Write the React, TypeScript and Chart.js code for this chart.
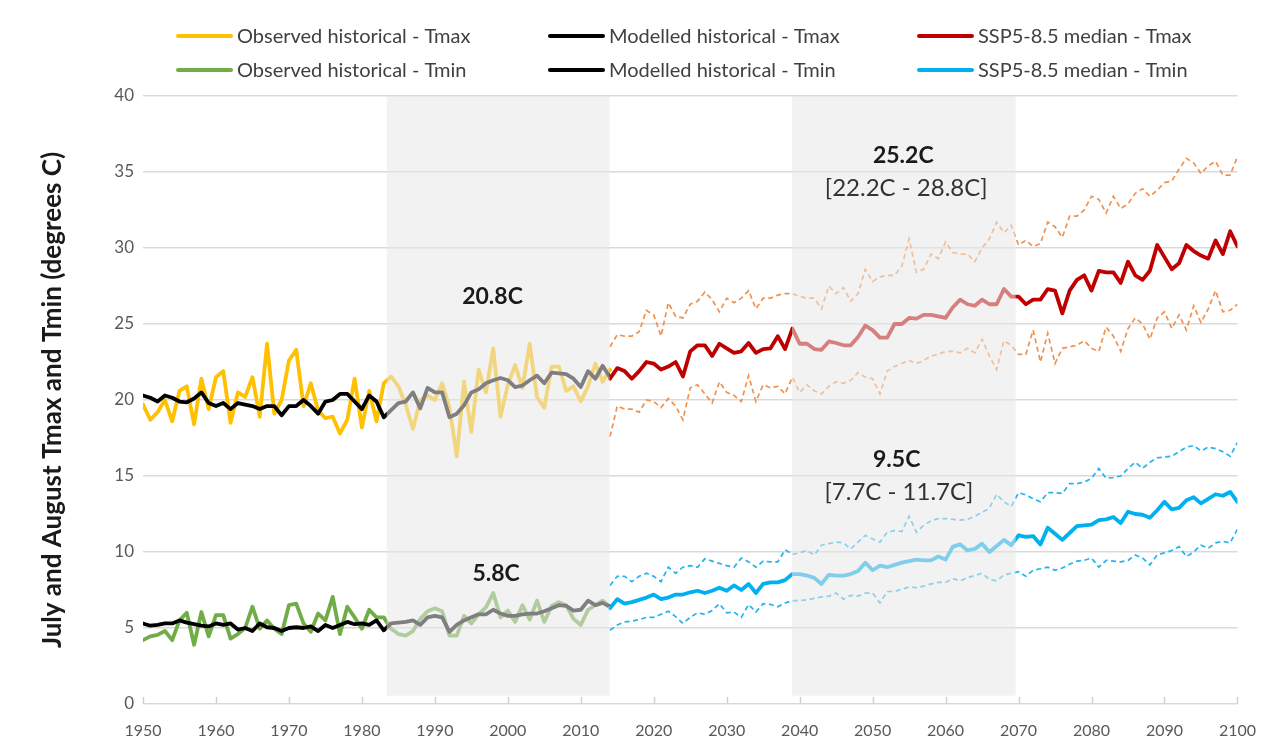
import React, { useEffect, useRef } from "react";
import { Chart, registerables } from "chart.js";

Chart.register(...registerables);

// ---------- categories ----------
const HIST_START = 1950;
const HIST_END = 2014;
const PROJ_START = 2014;
const PROJ_END = 2100;
const HIST_YEARS: number[] = [];
for (let y = HIST_START; y <= HIST_END; y++) HIST_YEARS.push(y);
const PROJ_YEARS: number[] = [];
for (let y = PROJ_START; y <= PROJ_END; y++) PROJ_YEARS.push(y);

const X_TICKS = [1950, 1960, 1970, 1980, 1990, 2000, 2010, 2020, 2030, 2040, 2050, 2060, 2070, 2080, 2090, 2100];
const Y_TICKS = [0, 5, 10, 15, 20, 25, 30, 35, 40];

// ---------- series (1950-2014) ----------
const OBS_TMAX = [
  19.7, 18.7, 19.2, 20.0, 18.6, 20.6, 20.9, 18.4, 21.4, 19.4,
  21.5, 21.9, 18.5, 20.5, 20.2, 21.5, 18.9, 23.7, 19.1, 20.0,
  22.6, 23.3, 19.6, 21.1, 19.3, 18.8, 18.9, 17.8, 18.7, 21.4,
  18.2, 20.6, 18.6, 21.1, 21.55, 20.9, 19.7, 18.1, 20.0, 20.3,
  20.0, 21.1, 19.5, 16.3, 21.2, 17.9, 22.0, 20.5, 23.4, 18.9,
  21.0, 22.3, 20.8, 23.7, 20.2, 19.5, 22.2, 22.2, 20.6, 20.9,
  19.9, 20.9, 22.4, 21.2, 22.0,
];
const MOD_TMAX = [
  20.3, 20.15, 19.9, 20.3, 20.15, 19.9, 19.85, 20.1, 20.5, 19.8,
  19.6, 19.8, 19.4, 19.8, 19.7, 19.6, 19.4, 19.6, 19.6, 19.0,
  19.6, 19.6, 20.0, 19.6, 19.1, 19.9, 20.0, 20.4, 20.4, 19.9,
  19.4, 20.3, 19.9, 18.86, 19.34, 19.8, 19.9, 20.5, 19.45, 20.8,
  20.5, 20.5, 18.86, 19.1, 19.65, 20.5, 20.7, 21.1, 21.3, 21.45,
  21.3, 20.85, 20.95, 21.3, 21.6, 21.1, 21.8, 21.75, 21.7, 21.4,
  20.85, 21.9, 21.4, 22.25, 21.5,
];
const OBS_TMIN = [
  4.2, 4.45, 4.55, 4.8, 4.2, 5.5, 6.0, 3.9, 6.05, 4.45,
  5.85, 5.85, 4.3, 4.6, 5.0, 6.4, 4.95, 5.5, 4.95, 4.6,
  6.5, 6.6, 5.3, 4.75, 5.95, 5.5, 7.05, 4.6, 6.4, 5.7,
  4.95, 6.2, 5.7, 5.7, 4.95, 4.6, 4.5, 4.8, 5.6, 6.1,
  6.3, 6.1, 4.5, 4.5, 5.8, 5.3, 5.9, 6.35, 7.3, 5.7,
  6.15, 5.4, 6.5, 5.55, 6.8, 5.4, 6.45, 6.7, 6.5, 5.6,
  5.2, 6.2, 6.5, 6.8, 6.4,
];
const MOD_TMIN = [
  5.3, 5.15, 5.2, 5.3, 5.3, 5.5, 5.35, 5.25, 5.15, 5.1,
  5.3, 5.2, 5.3, 4.9, 5.0, 4.8, 5.3, 5.05, 5.0, 4.8,
  5.0, 5.05, 5.0, 5.1, 4.8, 5.2, 5.0, 5.2, 5.4, 5.25,
  5.3, 5.2, 5.5, 4.85, 5.3, 5.35, 5.4, 5.5, 5.2, 5.7,
  5.8, 5.7, 4.75, 5.2, 5.5, 5.7, 5.9, 5.9, 6.2, 5.95,
  5.8, 5.8, 5.9, 5.95, 5.95, 6.1, 6.3, 6.5, 6.45, 6.15,
  6.2, 6.8, 6.5, 6.65, 6.4,
];

// ---------- series (2014-2100) ----------
const SSP_TMAX_MED = [
  21.4, 22.1, 21.9, 21.4, 21.9, 22.5, 22.4, 22.0, 22.2, 22.5,
  21.55, 23.2, 23.6, 23.6, 22.9, 23.7, 23.4, 23.1, 23.2, 23.75,
  23.1, 23.35, 23.4, 24.2, 23.35, 24.7, 23.7, 23.7, 23.35, 23.3,
  23.85, 23.75, 23.6, 23.6, 24.15, 24.9, 24.6, 24.1, 24.1, 25.0,
  25.0, 25.4, 25.35, 25.6, 25.6, 25.5, 25.4, 26.1, 26.6, 26.3,
  26.2, 26.6, 26.3, 26.3, 27.3, 26.8, 26.8, 26.3, 26.6, 26.6,
  27.3, 27.2, 25.7, 27.2, 27.9, 28.2, 27.2, 28.5, 28.4, 28.4,
  27.7, 29.1, 28.2, 27.9, 28.5, 30.2, 29.4, 28.6, 29.0, 30.2,
  29.8, 29.5, 29.3, 30.5, 29.6, 31.1, 30.1,
];
const SSP_TMAX_HIGH = [
  23.5, 24.3, 24.2, 24.2, 24.5, 25.9, 25.6, 24.2, 26.4, 25.5,
  25.4, 26.3, 26.5, 27.1, 26.6, 25.8, 26.7, 26.4, 26.7, 27.2,
  26.0, 26.7, 26.7, 26.9, 27.0, 27.0, 26.8, 26.7, 26.7, 26.0,
  27.5, 27.0, 27.4, 26.5, 27.0, 28.6, 27.8, 28.1, 28.2, 28.2,
  28.8, 30.6, 28.4, 28.6, 29.6, 29.3, 30.4, 29.7, 29.6, 29.6,
  29.1, 30.0, 30.6, 31.7, 31.0, 31.5, 30.2, 30.5, 30.1, 30.3,
  31.7, 31.4, 30.7, 32.1, 32.1, 32.5, 33.4, 33.2, 32.3, 33.4,
  32.6, 32.9, 33.6, 33.9, 33.4, 33.8, 34.3, 34.4, 35.2, 35.9,
  35.6, 34.9, 35.4, 35.7, 34.8, 34.8, 36.0,
];
const SSP_TMAX_LOW = [
  17.6, 19.6, 19.4, 19.4, 19.2, 20.0, 19.9, 19.5, 20.1, 19.6,
  18.7, 20.8, 21.0, 20.4, 19.8, 21.2, 20.5, 20.3, 19.9, 21.6,
  19.9, 21.0, 20.8, 20.9, 20.4, 21.5, 20.5, 21.0, 20.6, 20.4,
  20.9, 21.2, 21.1, 21.3, 21.8, 21.5, 21.4, 20.4, 21.9, 22.2,
  22.4, 22.6, 22.4, 22.6, 22.9, 23.0, 23.2, 23.2, 23.1, 23.4,
  23.1, 24.0, 22.9, 22.0, 23.9, 23.6, 23.0, 23.0, 24.6, 22.5,
  24.4, 22.4, 23.4, 23.5, 23.6, 23.9, 23.4, 23.2, 24.8, 24.2,
  23.2, 24.7, 25.4, 25.0, 24.0, 25.4, 25.8, 24.7, 25.6, 24.6,
  26.2, 25.1, 26.0, 27.2, 25.8, 25.9, 26.3,
];
const SSP_TMIN_MED = [
  6.3, 6.9, 6.6, 6.7, 6.85, 7.0, 7.2, 6.9, 7.0, 7.2,
  7.2, 7.35, 7.45, 7.3, 7.45, 7.65, 7.45, 7.8, 7.5, 7.9,
  7.3, 7.9, 8.0, 8.0, 8.15, 8.55, 8.55, 8.45, 8.3, 7.9,
  8.5, 8.45, 8.45, 8.55, 8.75, 9.3, 8.8, 9.1, 9.0, 9.15,
  9.3, 9.4, 9.5, 9.45, 9.45, 9.7, 9.5, 10.35, 10.5, 10.1,
  10.2, 10.55, 10.0, 10.4, 10.8, 10.45, 11.1, 11.0, 11.05, 10.5,
  11.6, 11.2, 10.8, 11.25, 11.7, 11.75, 11.8, 12.1, 12.15, 12.3,
  11.9, 12.65, 12.5, 12.45, 12.25, 12.75, 13.3, 12.8, 12.9, 13.4,
  13.6, 13.2, 13.5, 13.8, 13.7, 13.95, 13.3,
];
const SSP_TMIN_HIGH = [
  7.8, 8.4, 8.4, 8.05, 8.4, 8.6, 8.4, 8.05, 9.0, 8.6,
  9.0, 9.1, 9.0, 9.55, 9.4, 9.25, 9.1, 9.0, 9.6, 9.35,
  9.0, 9.4, 9.35, 9.35, 10.15, 9.85, 9.95, 10.1, 9.8, 10.45,
  10.55, 10.65, 10.6, 10.2, 10.65, 11.1, 10.85, 10.65, 11.3, 11.4,
  11.35, 12.35, 11.3, 11.75, 12.05, 12.2, 12.2, 12.15, 12.1, 12.15,
  12.35, 12.6, 12.9, 13.8, 13.3, 13.0, 13.9, 13.75, 13.5, 13.3,
  13.9, 13.9, 13.85, 14.5, 14.5, 14.6, 14.85, 15.5, 14.85, 14.9,
  15.0, 15.5, 15.9, 15.5, 15.9, 16.2, 16.25, 16.3, 16.6, 16.9,
  17.0, 16.65, 16.9, 16.8, 16.6, 16.3, 17.2,
];
const SSP_TMIN_LOW = [
  4.85, 5.2, 5.4, 5.45, 5.55, 5.7, 5.7, 5.9, 6.1, 5.75,
  5.3, 5.7, 6.0, 5.9, 6.15, 6.6, 6.0, 6.05, 5.7, 6.55,
  6.05, 6.6, 6.55, 6.4, 6.65, 6.8, 6.8, 6.85, 6.95, 7.05,
  7.1, 7.3, 6.9, 7.15, 7.1, 7.3, 7.3, 6.65, 7.4, 7.4,
  7.55, 7.7, 7.65, 7.75, 7.9, 8.0, 8.0, 8.25, 8.1, 8.3,
  8.45, 8.6, 8.2, 8.1, 8.5, 8.6, 8.7, 8.4, 8.8, 8.9,
  9.0, 8.8, 8.95, 9.2, 9.4, 9.45, 9.6, 9.0, 9.45, 9.4,
  9.35, 9.45, 9.8, 9.6, 9.15, 9.8, 9.95, 10.1, 10.35, 9.7,
  10.0, 10.45, 10.25, 10.6, 10.7, 10.6, 11.5,
];

// ---------- shaded averaging periods & labels ----------
const BANDS: [number, number][] = [
  [1983.4, 2013.95],
  [2038.95, 2069.6],
];
const ANNOTATIONS = [
  { x: 1997.9, y: 26.8, text: "20.8C", bold: true },
  { x: 1998.4, y: 8.55, text: "5.8C", bold: true },
  { x: 2054.2, y: 36.1, text: "25.2C", bold: true },
  { x: 2054.6, y: 33.95, text: "[22.2C - 28.8C]", bold: false },
  { x: 2053.3, y: 16.05, text: "9.5C", bold: true },
  { x: 2053.6, y: 13.95, text: "[7.7C - 11.7C]", bold: false },
];
const LEGEND_LABELS = [
  "Observed historical - Tmax",
  "Modelled historical - Tmax",
  "SSP5-8.5 median - Tmax",
  "Observed historical - Tmin",
  "Modelled historical - Tmin",
  "SSP5-8.5 median - Tmin",
];

const C_YELLOW = "#FFC000";
const C_GREEN = "#70AD47";
const C_BLACK = "#000000";
const C_RED = "#C00000";
const C_BLUE = "#00B0F0";
const C_ORANGE_DASH = "#F0924F";
const C_BLUE_DASH = "#22B4EE";
const LEGEND_COLORS = [C_YELLOW, C_BLACK, C_RED, C_GREEN, C_BLACK, C_BLUE];
const FONT = "Lato, 'Open Sans', sans-serif";

const toPts = (xs: number[], ys: number[]) => xs.map((x, i) => ({ x, y: ys[i] }));

const bandPlugin = {
  id: "bands",
  afterDatasetsDraw(chart: any) {
    const { ctx, scales } = chart;
    const xs = scales.x;
    const ys = scales.y;
    ctx.save();
    ctx.fillStyle = "rgba(231,231,231,0.55)";
    BANDS.forEach(([a, b]) => {
      const x0 = xs.getPixelForValue(a);
      const x1 = xs.getPixelForValue(b);
      const y0 = ys.getPixelForValue(40);
      const y1 = ys.getPixelForValue(0.55);
      ctx.fillRect(x0, y0, x1 - x0, y1 - y0);
    });
    // inside tick marks on the x axis
    ctx.strokeStyle = "#D0D0D0";
    ctx.lineWidth = 1.5;
    const yb = ys.getPixelForValue(0);
    X_TICKS.forEach((t) => {
      const px = Math.round(xs.getPixelForValue(t)) + 0.5;
      ctx.beginPath();
      ctx.moveTo(px, yb);
      ctx.lineTo(px, yb - 7);
      ctx.stroke();
    });
    ctx.restore();
  },
};

const labelPlugin = {
  id: "labels",
  afterDraw(chart: any) {
    const { ctx, scales } = chart;
    ctx.save();
    ctx.textAlign = "center";
    ctx.textBaseline = "middle";
    ANNOTATIONS.forEach((a) => {
      ctx.font = a.bold ? `bold 23px ${FONT}` : `24px ${FONT}`;
      ctx.fillStyle = a.bold ? "#1a1a1a" : "#333333";
      ctx.fillText(a.text, scales.x.getPixelForValue(a.x), scales.y.getPixelForValue(a.y));
    });
    // legend (3 columns x 2 rows)
    const colX = [170, 542, 911];
    const rowY = [28, 62];
    ctx.textAlign = "left";
    ctx.font = `20px ${FONT}`;
    LEGEND_LABELS.forEach((lab, i) => {
      const cx = colX[i % 3];
      const cy = rowY[Math.floor(i / 3)];
      ctx.strokeStyle = LEGEND_COLORS[i];
      ctx.lineWidth = 4;
      ctx.lineCap = "round";
      ctx.beginPath();
      ctx.moveTo(cx, cy);
      ctx.lineTo(cx + 53, cy);
      ctx.stroke();
      ctx.fillStyle = "#404040";
      ctx.fillText(lab, cx + 59, cy + 1);
    });
    ctx.restore();
  },
};

export default function App() {
  const ref = useRef<HTMLCanvasElement | null>(null);
  useEffect(() => {
    if (!ref.current) return;
    const solid = (label: string, xs: number[], ys: number[], color: string, order: number) => ({
      label,
      data: toPts(xs, ys),
      borderColor: color,
      backgroundColor: color,
      borderWidth: 3.8,
      pointRadius: 0,
      tension: 0,
      fill: false,
      borderJoinStyle: "round",
      borderCapStyle: "round",
      order,
    });
    const dashed = (label: string, xs: number[], ys: number[], color: string) => ({
      label,
      data: toPts(xs, ys),
      borderColor: color,
      backgroundColor: color,
      borderWidth: 1.7,
      borderDash: [5, 3.5],
      pointRadius: 0,
      tension: 0,
      fill: false,
      order: 5,
    });
    const chart = new Chart(ref.current, {
      type: "line",
      data: {
        datasets: [
          solid(LEGEND_LABELS[0], HIST_YEARS, OBS_TMAX, C_YELLOW, 3),
          solid(LEGEND_LABELS[1], HIST_YEARS, MOD_TMAX, C_BLACK, 2),
          solid(LEGEND_LABELS[2], PROJ_YEARS, SSP_TMAX_MED, C_RED, 1),
          solid(LEGEND_LABELS[3], HIST_YEARS, OBS_TMIN, C_GREEN, 3),
          solid(LEGEND_LABELS[4], HIST_YEARS, MOD_TMIN, C_BLACK, 2),
          solid(LEGEND_LABELS[5], PROJ_YEARS, SSP_TMIN_MED, C_BLUE, 1),
          dashed("SSP5-8.5 high - Tmax", PROJ_YEARS, SSP_TMAX_HIGH, C_ORANGE_DASH),
          dashed("SSP5-8.5 low - Tmax", PROJ_YEARS, SSP_TMAX_LOW, C_ORANGE_DASH),
          dashed("SSP5-8.5 high - Tmin", PROJ_YEARS, SSP_TMIN_HIGH, C_BLUE_DASH),
          dashed("SSP5-8.5 low - Tmin", PROJ_YEARS, SSP_TMIN_LOW, C_BLUE_DASH),
        ] as any,
      },
      options: {
        animation: false,
        responsive: true,
        maintainAspectRatio: false,
        layout: { padding: { top: 88, right: 33, left: 0, bottom: 0 } },
        plugins: {
          legend: { display: false },
          tooltip: { enabled: false },
        },
        scales: {
          x: {
            type: "linear",
            min: 1950,
            max: 2100,
            afterBuildTicks: (s: any) => {
              s.ticks = X_TICKS.map((v) => ({ value: v }));
            },
            afterFit: (s: any) => {
              s.height = 35;
            },
            ticks: {
              autoSkip: false,
              maxRotation: 0,
              padding: 17,
              color: "#595959",
              font: { family: FONT, size: 16 },
              callback: (v: any) => String(v),
            },
            grid: { display: false, drawTicks: false },
            border: { display: false },
          },
          y: {
            min: 0,
            max: 40,
            afterBuildTicks: (s: any) => {
              s.ticks = Y_TICKS.map((v) => ({ value: v }));
            },
            afterFit: (s: any) => {
              s.width = 135;
            },
            ticks: {
              padding: 9,
              color: "#595959",
              font: { family: FONT, size: 17 },
            },
            grid: { color: "#D9D9D9", lineWidth: 1.5, drawTicks: false },
            border: { display: false },
            title: {
              display: true,
              text: "July and August Tmax and Tmin (degrees C)",
              color: "#1a1a1a",
              font: { family: FONT, size: 26, weight: "bold" },
              padding: { top: 29, bottom: 0 },
            },
          },
        },
      } as any,
      plugins: [bandPlugin, labelPlugin],
    });
    return () => chart.destroy();
  }, []);
  return (
    <div style={{ width: 1265, height: 731, position: "relative" }}>
      <canvas ref={ref} />
    </div>
  );
}
